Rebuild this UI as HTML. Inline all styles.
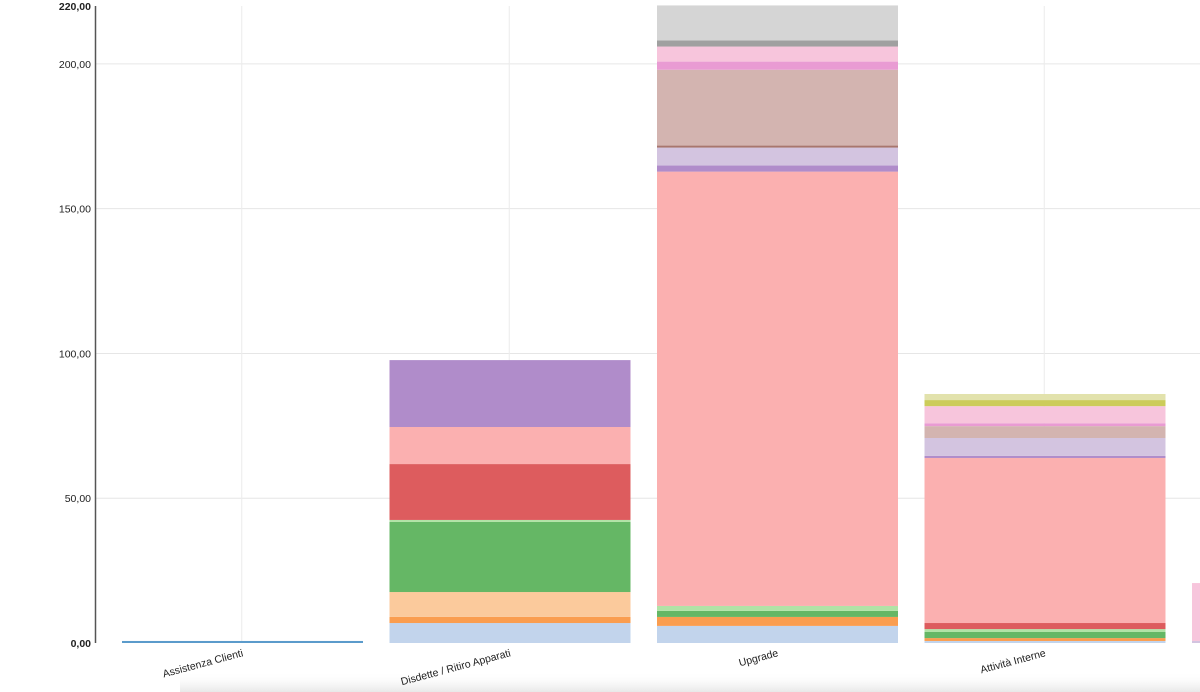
<!DOCTYPE html>
<html><head><meta charset="utf-8"><style>
html,body{margin:0;padding:0;background:#fff;width:1200px;height:692px;overflow:hidden}
svg{display:block;font-family:"Liberation Sans",Arial,sans-serif}
</style></head><body>
<svg id="chart" width="1200" height="692" viewBox="0 0 1200 692">
<defs><linearGradient id="sh" x1="0" y1="0" x2="0" y2="1"><stop offset="0" stop-color="#fff" stop-opacity="0"/><stop offset="1" stop-color="#e8e8e8"/></linearGradient></defs>
<rect x="180" y="672" width="1020" height="20" fill="url(#sh)"/>
<g id="grid"></g>
<g id="bars"></g>
<g id="axes"></g>
</svg>
<script>
const categories = ["Assistenza Clienti","Disdette / Ritiro Apparati","Upgrade","Attività Interne","Altro"];
const seriesNames = ["s1","s2","s3","s4","s5","s6","s7","s8","s9","s10","s11","s12","s13","s14","s15","s16","s17","s18"];
const seriesColors = ["#5b9bcb","#c2d4ec","#fa9d4f","#fbca9c","#65b765","#b1e3a6","#dd5c5e","#fbb0b0","#b08cca","#d3c4e0","#a8766e","#d3b4b0","#e99bd3","#f7c5dc","#a0a0a0","#d5d5d5","#cccc5a","#e2e2ac"];
// values[series][category]
const s1  = [0.7, 0, 0, 0, 0];
const s2  = [0, 6.9, 5.9, 0.7, 0];
const s3  = [0, 2.1, 3.1, 1.0, 0];
const s4  = [0, 8.6, 0, 0, 0];
const s5  = [0, 24.2, 2.1, 2.1, 0];
const s6  = [0, 0.7, 1.7, 1.0, 0];
const s7  = [0, 19.3, 0, 2.1, 0];
const s8  = [0, 12.8, 150, 57, 0];
const s9  = [0, 23.1, 2.1, 0.7, 0];
const s10 = [0, 0, 6.2, 6.2, 0.7];
const s11 = [0, 0, 0.7, 0, 0];
const s12 = [0, 0, 26.2, 4.1, 0];
const s13 = [0, 0, 2.8, 1.0, 0];
const s14 = [0, 0, 5.2, 5.9, 20.0];
const s15 = [0, 0, 2.1, 0, 0];
const s16 = [0, 0, 12.1, 0, 0];
const s17 = [0, 0, 0, 2.1, 0];
const s18 = [0, 0, 0, 2.1, 0];
const values = [s1,s2,s3,s4,s5,s6,s7,s8,s9,s10,s11,s12,s13,s14,s15,s16,s17,s18];
const yTicks = [0,50,100,150,200,220];
const yTickLabels = ["0,00","50,00","100,00","150,00","200,00","220,00"];

const NS="http://www.w3.org/2000/svg";
const x0=108, band=267.5, barW=241, y0=643, yMax=220, yTop=6;
function y(v){return y0-(v/yMax)*(y0-yTop);}
function bx(i){return x0+i*band+14;}
function cx(i){return x0+i*band+band/2;}
function mk(tag,attrs,parent){const e=document.createElementNS(NS,tag);for(const k in attrs)e.setAttribute(k,attrs[k]);parent.appendChild(e);return e;}
const grid=document.getElementById('grid'),bars=document.getElementById('bars'),axes=document.getElementById('axes');

yTicks.forEach((t,i)=>{
  if(t>0&&t<220){const l=mk('line',{x1:95,x2:1200,y1:y(t),y2:y(t),stroke:'#e6e6e6','stroke-width':1},grid);
  
  }
  const tx=mk('text',{x:91,y:y(t)+4,'text-anchor':'end','font-size':10.5,fill:'#222','font-weight':(t==0||t==220)?'bold':'normal'},axes);
  tx.textContent=yTickLabels[i];
  
  
});
categories.forEach((c,i)=>{
  const l=mk('line',{x1:cx(i),x2:cx(i),y1:yTop,y2:y0,stroke:'#ececec','stroke-width':1},grid);
  
  
  const t=mk('text',{'text-anchor':'end','font-size':10.5,fill:'#222',transform:`translate(${cx(i)+2},${656}) rotate(-15)`},axes);
  t.textContent=c;
  
  
});
categories.forEach((c,ci)=>{
  let acc=0;
  values.forEach((ser,si)=>{
    const v=ser[ci]; if(!v) return;
    const r=mk('rect',{x:bx(ci),y:y(acc+v),width:barW,height:y(acc)-y(acc+v),fill:seriesColors[si]},bars);
    
    
    acc+=v;
  });
});
const ax=mk('line',{x1:95.5,x2:95.5,y1:yTop,y2:y0,stroke:'#555','stroke-width':1.5},axes);


</script>
</body></html>
